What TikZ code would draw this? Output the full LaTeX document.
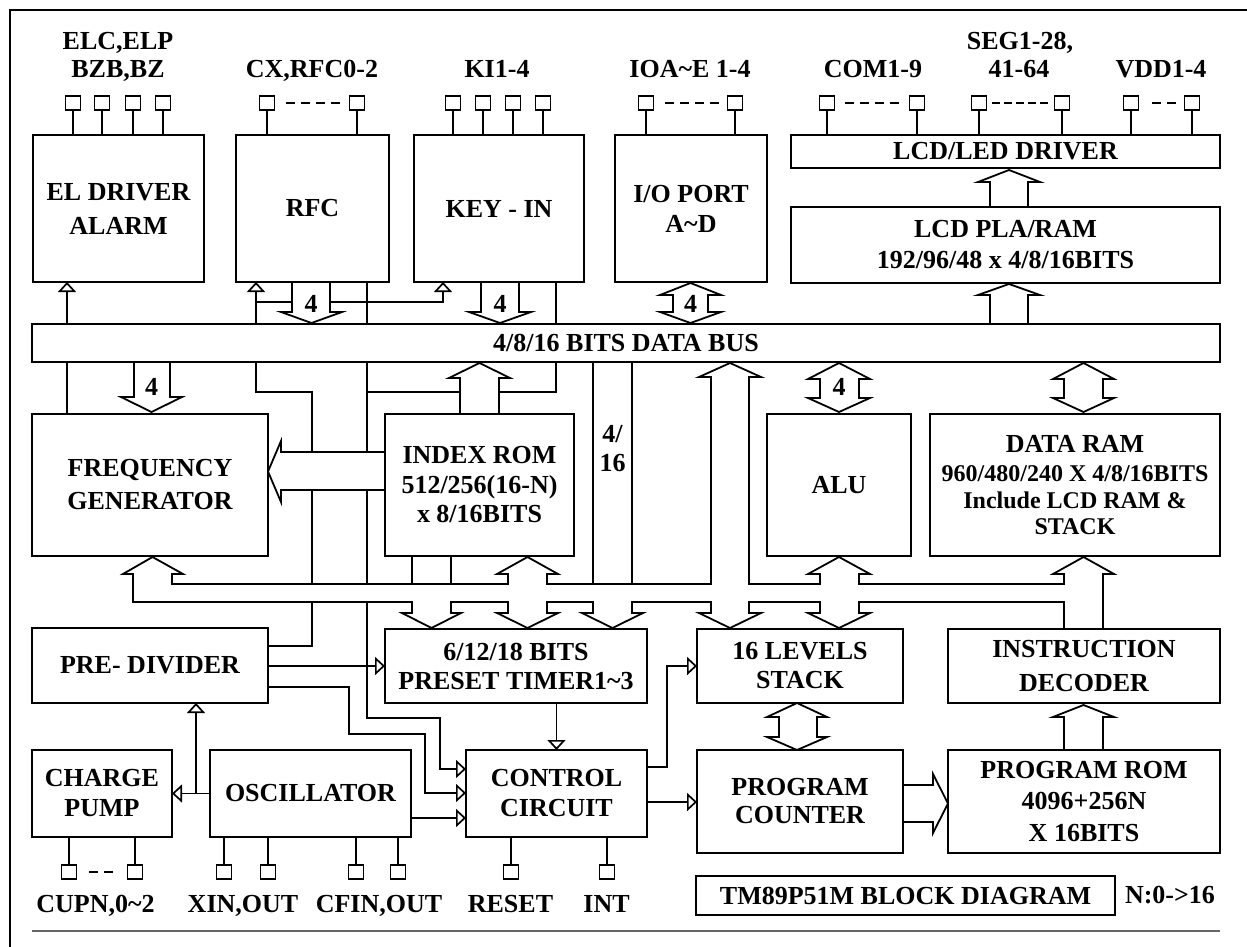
\documentclass[tikz,border=0pt]{standalone}
\usepackage{fontspec}
\setmainfont{Liberation Serif}
\usetikzlibrary{arrows.meta}
\pgfdeclarelayer{bg}
\pgfdeclarelayer{mid}
\pgfsetlayers{bg,mid,main}
\newcommand{\blkv}[7]{\filldraw[barrow] (#1,#5) -- (#1,#6) -- (#3,#6) -- ({(#3+#4)/2},#7) -- (#4,#6) -- (#2,#6) -- (#2,#5);}
\newcommand{\blkd}[8]{\filldraw[barrow] ({(#3+#4)/2},#5) -- (#4,#6) -- (#2,#6) -- (#2,#7) -- (#4,#7) -- ({(#3+#4)/2},#8) -- (#3,#7) -- (#1,#7) -- (#1,#6) -- (#3,#6) -- cycle;}
\tikzset{
  fnt/.style={font=\fontsize{26}{#1}\selectfont\bfseries},
  every node/.style={inner sep=0pt, outer sep=0pt, fnt=30},
  blk/.style={draw, fill=white, line width=1.8pt, align=center},
  pinbox/.style={draw, fill=white, line width=1.6pt, minimum width=15pt, minimum height=14pt},
  wire/.style={line width=1.7pt},
  tri/.style={wire, -{Triangle[open, length=10pt, width=18pt]}},
  barrow/.style={draw, fill=white, line width=1.8pt},
  lbl/.style={anchor=base},
  pdash/.style={line width=1.6pt, dash pattern=on 9pt off 6pt},
}
\begin{document}
\begin{tikzpicture}[x=1pt,y=-1pt]
\useasboundingbox (0,0) rectangle (1247,947);
% frame
\draw[line width=2.6pt] (10,947) -- (10,10) -- (1247,10);
\draw[black!60, line width=1.2pt] (32,931) -- (1220,931);

% ---------- blocks ----------
\node[blk, minimum width=171pt, minimum height=147pt, fnt=34] (eld) at (118.5,208.5) {EL DRIVER\\ALARM};
\node[blk, minimum width=153pt, minimum height=147pt] (rfc) at (312.5,208.5) {RFC};
\node[blk, minimum width=170pt, minimum height=147pt] (key) at (499,208.5) {KEY - IN};
\node[blk, minimum width=152pt, minimum height=147pt] (iop) at (691,208.5) {I/O PORT\\A\textasciitilde D};
\node[blk, minimum width=429pt, minimum height=33pt] (lcdd) at (1005.5,151.5) {LCD/LED DRIVER};
\node[blk, minimum width=429pt, minimum height=76pt, fnt=31] (lcdp) at (1005.5,245) {LCD PLA/RAM\\192/96/48 x 4/8/16BITS};
\node[blk, minimum width=1188pt, minimum height=38pt] (bus) at (626,343) {4/8/16 BITS DATA BUS};
\node[blk, minimum width=236pt, minimum height=142pt, fnt=33] (freq) at (150,485) {FREQUENCY\\GENERATOR};
\node[blk, minimum width=189pt, minimum height=142pt, fnt=29.5] (irom) at (479.5,485) {INDEX ROM\\512/256(16-N)\\x 8/16BITS};
\node[blk, minimum width=144pt, minimum height=142pt] (alu) at (839,485) {ALU};
\node[blk, minimum width=290pt, minimum height=142pt, font=\fontsize{24}{26.5}\selectfont\bfseries] (dram) at (1075,485) {{\fontsize{26}{30}\selectfont DATA RAM}\\[3pt]960/480/240 X 4/8/16BITS\\Include LCD RAM \&\\STACK};
\node[blk, minimum width=236pt, minimum height=75pt] (pre) at (150,665.5) {PRE- DIVIDER};
\node[blk, minimum width=262pt, minimum height=74pt, fnt=29] (timer) at (516,666) {6/12/18 BITS\\PRESET TIMER1\textasciitilde 3};
\node[blk, minimum width=206pt, minimum height=74pt, fnt=29] (stack) at (800,666) {16 LEVELS\\STACK};
\node[blk, minimum width=272pt, minimum height=74pt, fnt=34] (dec) at (1084,666) {INSTRUCTION\\DECODER};
\node[blk, minimum width=140pt, minimum height=87pt, fnt=30] (cp) at (102,793.5) {CHARGE\\PUMP};
\node[blk, minimum width=201pt, minimum height=87pt] (osc) at (310.5,793.5) {OSCILLATOR};
\node[blk, minimum width=181pt, minimum height=87pt, fnt=30] (ctrl) at (556.5,793.5) {CONTROL\\CIRCUIT};
\node[blk, minimum width=206pt, minimum height=103pt, fnt=28] (pc) at (800,801.5) {PROGRAM\\COUNTER};
\node[blk, minimum width=272pt, minimum height=103pt, fnt=31.5] (prom) at (1084,801.5) {PROGRAM ROM\\4096+256N\\X 16BITS};
\node[blk, minimum width=419pt, minimum height=39pt] (title) at (905.5,895.5) {TM89P51M BLOCK DIAGRAM};
\node[lbl] (nnote) at (1170,903) {N:0->16};

% ---------- pins ----------
\foreach \n/\x in {pa1/73,pa2/102,pa3/133,pa4/163,pb1/267,pb2/357,pc1/453,pc2/483,pc3/513,pc4/543,pd1/646,pd2/735,pe1/827,pe2/917,pf1/979,pf2/1062,pg1/1131,pg2/1192}
  \node[pinbox] (\n) at (\x,103) {};
\foreach \n/\x in {qa1/69,qa2/135,qb1/224,qb2/268,qb3/356,qb4/398,qc1/511,qc2/607}
  \node[pinbox] (\n) at (\x,872) {};

% pin labels
\node[lbl] (l1a) at (118,50) {ELC,ELP};
\node[lbl] (l1b) at (118,78) {BZB,BZ};
\node[lbl] (l2) at (312,78) {CX,RFC0-2};
\node[lbl] (l3) at (497,78) {KI1-4};
\node[lbl] (l4) at (690,78) {IOA\textasciitilde E 1-4};
\node[lbl] (l5) at (873,78) {COM1-9};
\node[lbl] (l6a) at (1020,50) {SEG1-28,};
\node[lbl] (l6b) at (1019,78) {41-64};
\node[lbl] (l7) at (1161,78) {VDD1-4};
\node[lbl] (m1) at (95.5,912) {CUPN,0\textasciitilde 2};
\node[lbl] (m2) at (243,912) {XIN,OUT};
\node[lbl] (m3) at (379,912) {CFIN,OUT};
\node[lbl] (m4) at (510.5,912) {RESET};
\node[lbl] (m5) at (606.5,912) {INT};
\node[fnt=29, align=center] (w416) at (612.5,449) {4/\\16};

% ---------- wires ----------
\begin{pgfonlayer}{bg}
\foreach \p in {pa1,pa2,pa3,pa4} \draw[wire] (\p.south) -- (\p.south |- eld.north);
\foreach \p in {pb1,pb2} \draw[wire] (\p.south) -- (\p.south |- rfc.north);
\foreach \p in {pc1,pc2,pc3,pc4} \draw[wire] (\p.south) -- (\p.south |- key.north);
\foreach \p in {pd1,pd2} \draw[wire] (\p.south) -- (\p.south |- iop.north);
\foreach \p in {pe1,pe2,pf1,pf2,pg1,pg2} \draw[wire] (\p.south) -- (\p.south |- lcdd.north);
\foreach \p in {qa1,qa2} \draw[wire] (\p.north) -- (\p.north |- cp.south);
\foreach \p in {qb1,qb2,qb3,qb4} \draw[wire] (\p.north) -- (\p.north |- osc.south);
\foreach \p in {qc1,qc2} \draw[wire] (\p.north) -- (\p.north |- ctrl.south);
\draw[pdash] (286,103) -- (340,103);
\draw[pdash] (665,103) -- (719,103);
\draw[pdash] (845,103) -- (899,103);
\draw[pdash, dash pattern=on 8pt off 4pt] (992,103) -- (1048,103);
\draw[pdash] (1152,103) -- (1176,103);
\draw[pdash] (89,872) -- (113,872);

\draw[tri] (67,0 |- bus.north) -- (67,0 |- eld.south);
\draw[wire] (67,0 |- bus.south) -- (67,0 |- freq.north);
\draw[tri] (256,0 |- bus.north) -- (256,0 |- rfc.south);
\draw[tri] (256,302) -- (443,302) -- (443,0 |- key.south);
\draw[wire] (367,0 |- rfc.south) -- (367,0 |- bus.north);
\draw[wire] (556,0 |- key.south) -- (556,0 |- bus.north);
\draw[wire] (256,0 |- bus.south) -- (256,392) -- (312,392) -- (312,646) -- (pre.east |- 0,646);
\draw[wire] (556,0 |- bus.south) -- (556,392) -- (367,392);
\draw[tri] (367,0 |- bus.south) -- (367,718) -- (440,718) -- (440,769) -- (ctrl.west |- 0,769);
\draw[wire] (593,0 |- bus.south) -- (593,584);
\draw[wire] (632,0 |- bus.south) -- (632,584);
\draw[wire] (412,0 |- irom.south) -- (412,584);
\draw[wire] (451,0 |- irom.south) -- (451,584);
\draw[tri] (pre.east |- 0,666) -- (timer.west |- 0,666);
\draw[tri] (pre.east |- 0,687) -- (349,687) -- (349,734) -- (425,734) -- (425,793) -- (ctrl.west |- 0,793);
\draw[tri] (osc.west) -- (cp.east);
\draw[tri] (196,0 |- osc.west) -- (196,0 |- pre.south);
\draw[tri] (osc.east |- 0,818) -- (ctrl.west |- 0,818);
\draw[tri] (ctrl.north |- timer.south) -- (ctrl.north);
\draw[tri] (ctrl.east |- 0,767) -- (667,767) -- (667,0 |- stack.west) -- (stack.west);
\draw[tri] (ctrl.east |- 0,802) -- (pc.west |- 0,802);
\end{pgfonlayer}

% ---------- block arrows ----------
\begin{pgfonlayer}{mid}
% top row
\blkv{990}{1028}{978}{1040}{207}{182}{170}
\blkv{990}{1028}{978}{1040}{324}{295}{284}
\blkv{292}{330}{281}{342}{282}{312}{323}
\blkv{481}{519}{469}{531}{282}{312}{323}
\blkd{673}{708}{660}{721}{283}{295}{312}{323}
% below bus
\blkv{134}{170}{121}{182}{362}{397}{412}
\blkv{460}{499}{449}{510}{414}{378}{363}
\blkd{820}{859}{808}{870}{363}{379}{398}{412}
\blkd{1064}{1103}{1053}{1114}{363}{379}{398}{412}
% index rom -> frequency generator
\filldraw[barrow] (385,452) -- (281,452) -- (281,441) -- (268,471.5) -- (281,502) -- (281,490) -- (385,490);
% horizontal bus
\filldraw[barrow] (152.5,557) -- (183,574) -- (172,574) -- (172,584) -- (508,584) -- (508,574) -- (497,574) -- (527.5,557) -- (558,574) -- (547,574) -- (547,584) -- (711,584) -- (711,377) -- (699,377) -- (730,363) -- (761,377) -- (749,377) -- (749,584) -- (820,584) -- (820,574) -- (808,574) -- (839,557) -- (870,574) -- (859,574) -- (859,584) -- (1064,584) -- (1064,574) -- (1053,574) -- (1083.5,557) -- (1114,574) -- (1103,574) -- (1103,629) -- (1064,629) -- (1064,602) -- (859,602) -- (859,613) -- (870,613) -- (839,628) -- (808,613) -- (820,613) -- (820,602) -- (749,602) -- (749,613) -- (761,613) -- (730,628) -- (699,613) -- (711,613) -- (711,602) -- (632,602) -- (632,613) -- (643,613) -- (612.5,628) -- (582,613) -- (593,613) -- (593,602) -- (547,602) -- (547,613) -- (558,613) -- (527.5,628) -- (497,613) -- (508,613) -- (508,602) -- (451,602) -- (451,613) -- (461,613) -- (431.5,628) -- (402,613) -- (412,613) -- (412,602) -- (133,602) -- (133,574) -- (123,574) -- cycle;
% stack <-> program counter
\blkd{779}{817}{767}{827}{703}{717}{737}{750}
% program counter -> program rom
\filldraw[barrow] (903,785) -- (933,785) -- (933,774) -- (948,803.5) -- (933,833) -- (933,822) -- (903,822);
% program rom -> instruction decoder
\blkv{1064}{1103}{1053}{1114}{750}{717}{705}
\end{pgfonlayer}

% arrow labels
\node[lbl] (n1) at (311,312) {4};
\node[lbl] (n2) at (500,312) {4};
\node[lbl] (n3) at (690.5,312) {4};
\node[lbl] (n4) at (151.5,395) {4};
\node[lbl] (n5) at (839,395) {4};
\end{tikzpicture}
\end{document}
